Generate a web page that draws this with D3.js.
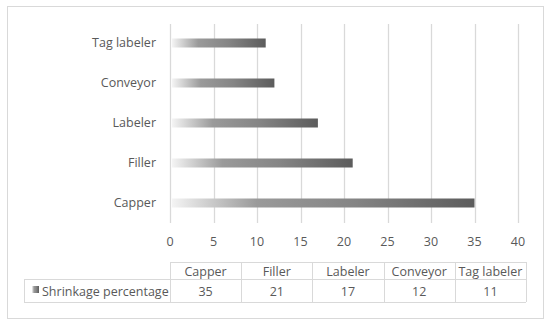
<!DOCTYPE html>
<html>
<head>
<meta charset="utf-8">
<script src="https://cdn.jsdelivr.net/npm/d3@7"></script>
<style>
  body { margin: 0; background: #fff; }
  text { font-family: "Open Sans", sans-serif; fill: #595959; }
</style>
</head>
<body>
<script>
'use strict';

var width = 550,
    height = 325;

// data
var categories = ["Capper", "Filler", "Labeler", "Conveyor", "Tag labeler"];
var values = [35, 21, 17, 12, 11];
var seriesName = "Shrinkage percentage";
var xTicks = [0, 5, 10, 15, 20, 25, 30, 35, 40];

var svg = d3.select("body").append("svg")
    .attr("width", width)
    .attr("height", height);

// gradient used by the bars
var defs = svg.append("defs");
var grad = defs.append("linearGradient")
    .attr("id", "barGrad")
    .attr("x1", "0%").attr("x2", "100%")
    .attr("y1", "0%").attr("y2", "0%");
grad.append("stop").attr("offset", "0%").attr("stop-color", "#f4f4f4");
grad.append("stop").attr("offset", "28%").attr("stop-color", "#9a9a9a");
grad.append("stop").attr("offset", "60%").attr("stop-color", "#858585");
grad.append("stop").attr("offset", "100%").attr("stop-color", "#5c5c5c");

// outer border
svg.append("rect")
    .attr("x", 7.5).attr("y", 6.5)
    .attr("width", 536).attr("height", 312)
    .attr("fill", "#fff")
    .attr("stroke", "#d9d9d9");

var x = d3.scaleLinear()
    .domain([0, 40])
    .range([170, 518]);

var y = d3.scaleBand()
    .domain(categories.slice().reverse())
    .range([23, 223]);

// gridlines
svg.append("g")
    .selectAll("line")
    .data(xTicks)
    .enter().append("line")
        .attr("x1", function(d) { return Math.round(x(d)) + 0.5; })
        .attr("x2", function(d) { return Math.round(x(d)) + 0.5; })
        .attr("y1", 24)
        .attr("y2", 223)
        .attr("stroke", "#d9d9d9")
        .attr("stroke-width", 1.3);

// bars
svg.append("g")
    .selectAll("rect")
    .data(values)
    .enter().append("rect")
        .attr("x", x(0) + 2)
        .attr("y", function(d, i) { return y(categories[i]) + y.bandwidth() / 2 - 4.5; })
        .attr("width", function(d) { return x(d) - x(0) - 2; })
        .attr("height", 9)
        .attr("fill", "url(#barGrad)");

// category labels
svg.append("g")
    .selectAll("text")
    .data(categories)
    .enter().append("text")
        .attr("x", 156)
        .attr("y", function(d) { return y(d) + y.bandwidth() / 2; })
        .attr("dy", "0.35em")
        .attr("text-anchor", "end")
        .style("font-size", "12.5px")
        .text(function(d) { return d; });

// x tick labels
svg.append("g")
    .selectAll("text")
    .data(xTicks)
    .enter().append("text")
        .attr("x", function(d) { return x(d); })
        .attr("y", 242)
        .attr("dy", "0.35em")
        .attr("text-anchor", "middle")
        .style("font-size", "12.5px")
        .text(function(d) { return d; });

// data table
var colX = d3.scaleBand()
    .domain(categories)
    .range([170, 526]);
var headTop = 262, rowTop = 279, rowBottom = 302, tableLeft = 24;
var tbl = svg.append("g")
    .attr("stroke", "#d9d9d9")
    .attr("fill", "none");

tbl.append("line").attr("x1", 170).attr("x2", 526).attr("y1", headTop + 0.5).attr("y2", headTop + 0.5);
tbl.append("line").attr("x1", tableLeft).attr("x2", 526).attr("y1", rowTop + 0.5).attr("y2", rowTop + 0.5);
tbl.append("line").attr("x1", tableLeft).attr("x2", 526).attr("y1", rowBottom + 0.5).attr("y2", rowBottom + 0.5);
tbl.append("line").attr("x1", tableLeft + 0.5).attr("x2", tableLeft + 0.5).attr("y1", rowTop).attr("y2", rowBottom);
tbl.selectAll(".vline")
    .data(categories.concat(["end"]))
    .enter().append("line")
        .attr("x1", function(d, i) { return Math.round(170 + i * colX.bandwidth()) + 0.5; })
        .attr("x2", function(d, i) { return Math.round(170 + i * colX.bandwidth()) + 0.5; })
        .attr("y1", headTop)
        .attr("y2", rowBottom);

svg.append("g")
    .selectAll("text")
    .data(categories)
    .enter().append("text")
        .attr("x", function(d) { return colX(d) + colX.bandwidth() / 2; })
        .attr("y", (headTop + rowTop) / 2 + 1)
        .attr("dy", "0.35em")
        .attr("text-anchor", "middle")
        .style("font-size", "12.5px")
        .text(function(d) { return d; });

svg.append("g")
    .selectAll("text")
    .data(values)
    .enter().append("text")
        .attr("x", function(d, i) { return colX(categories[i]) + colX.bandwidth() / 2; })
        .attr("y", (rowTop + rowBottom) / 2 + 1)
        .attr("dy", "0.35em")
        .attr("text-anchor", "middle")
        .style("font-size", "12.5px")
        .text(function(d) { return d; });

// legend key + series name
svg.append("rect")
    .attr("x", 32).attr("y", 286)
    .attr("width", 7).attr("height", 7)
    .attr("fill", "url(#barGrad)");
svg.append("text")
    .attr("x", 42)
    .attr("y", (rowTop + rowBottom) / 2 + 1)
    .attr("dy", "0.35em")
    .style("font-size", "12.5px")
    .text(seriesName);
</script>
</body>
</html>
